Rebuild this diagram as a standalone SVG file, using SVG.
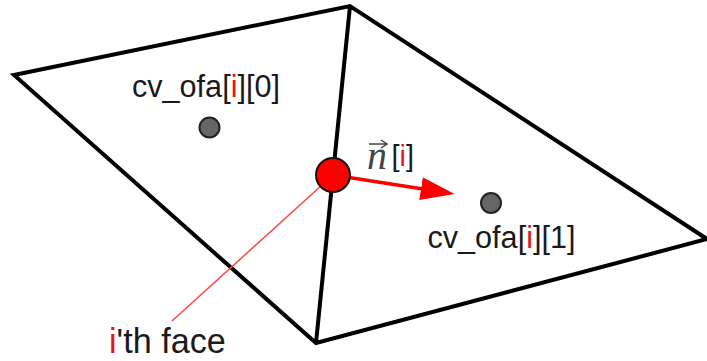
<svg xmlns="http://www.w3.org/2000/svg" width="707" height="361" viewBox="0 0 707 361">
<style>
.t{font-family:"Liberation Sans",Arial,sans-serif;font-size:30.600px;fill:#1a1a1a}
.r{fill:#e8141c}
.e{fill:none;stroke:#000;stroke-width:4;stroke-linejoin:miter}
.c{fill:#666;stroke:#222;stroke-width:2}
</style>
<defs><marker id="a" markerUnits="userSpaceOnUse" markerWidth="36" markerHeight="26" refX="2" refY="13" orient="auto"><path d="M0 1.500L34 13L0 24.500Z" fill="#f00"/></marker></defs>
<rect width="707" height="361" fill="#fff"/>
<g id="connectors">
<path class="e" d="M14 75L350 6L707 239L316 343ZM350 6L316 343"/>
<path d="M333 175L172 321" fill="none" stroke="#f44" stroke-width="1.500"/>
<path d="M333 175L423 189" fill="none" stroke="#f00" stroke-width="3.500" marker-end="url(#a)"/>
</g>
<g id="face"><circle cx="333" cy="175" r="17" fill="#f00" stroke="#111" stroke-width="2"/></g>
<g id="cell0"><circle class="c" cx="209.500" cy="127.500" r="10"/><text class="t" x="132" y="97">cv_ofa[<tspan class="r">i</tspan>][0]</text></g>
<g id="cell1"><circle class="c" cx="491" cy="203" r="10"/><text class="t" x="427.500" y="248">cv_ofa[<tspan class="r">i</tspan>][1]</text></g>
<g id="normal"><text x="367" y="169" style="font-family:'Liberation Serif',serif;font-style:italic;font-size:40px;fill:#444">n</text><path d="M369 144H386M381 140L387 144L381 148" fill="none" stroke="#444" stroke-width="1.500"/><text class="t" x="391.500" y="166" style="font-size:29px">[<tspan class="r">i</tspan>]</text></g>
<g id="label"><text class="t" x="109" y="353" style="font-size:34.200px"><tspan class="r">i</tspan>'th face</text></g>
</svg>
